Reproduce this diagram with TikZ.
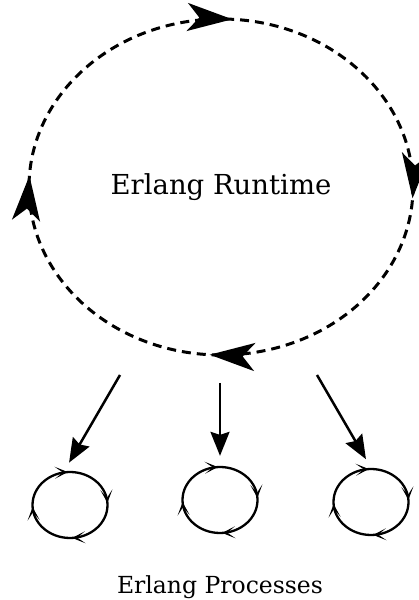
\documentclass[tikz,border=0pt]{standalone}
\usepackage{fontspec}
\setmainfont{DejaVu Serif}
\usetikzlibrary{arrows.meta,decorations.markings,shapes.geometric,positioning}

\tikzset{
  runtimeloop/.style={ellipse, draw, dashed, line width=3pt,
    dash pattern=on 9pt off 6pt, minimum width=384pt, minimum height=336pt,
    inner sep=0pt, font=\fontsize{27.5}{32}\selectfont,
    postaction={decorate},
    decoration={markings,
      mark=at position 0.24 with {\arrowreversed{Stealth[length=45pt,width=28pt,inset=12pt]}},
      mark=at position 0.49 with {\arrowreversed{Stealth[length=45pt,width=28pt,inset=12pt]}},
      mark=at position 0.74 with {\arrowreversed{Stealth[length=45pt,width=28pt,inset=12pt]}},
      mark=at position 0.99 with {\arrowreversed{Stealth[length=45pt,width=28pt,inset=12pt]}}}},
  proc/.style={ellipse, draw, line width=2.3pt, minimum width=75pt,
    minimum height=66pt, inner sep=0pt,
    postaction={decorate},
    decoration={markings,
      mark=at position 0.01 with {\arrowreversed{Stealth[length=13pt,width=12pt,inset=8pt]}},
      mark=at position 0.26 with {\arrowreversed{Stealth[length=13pt,width=12pt,inset=8pt]}},
      mark=at position 0.51 with {\arrowreversed{Stealth[length=13pt,width=12pt,inset=8pt]}},
      mark=at position 0.76 with {\arrowreversed{Stealth[length=13pt,width=12pt,inset=8pt]}}}},
  spawn/.style={-{Stealth[length=24pt,width=19pt,inset=3pt]}, line width=2.5pt, shorten >=10pt}
}

\begin{document}
\begin{tikzpicture}[x=1pt,y=1pt]
\useasboundingbox (0,0) rectangle (419,600);

\node[runtimeloop] (runtime) at (221,413) {Erlang Runtime};

\node[proc] (p1) at (70,95) {};
\node[proc] (p2) at (220,100) {};
\node[proc] (p3) at (371,98) {};

\coordinate (s1) at (120,225);
\coordinate (s2) at (220,217);
\coordinate (s3) at (317,225);

\draw[spawn] (s1) -- (p1.100);
\draw[spawn] (s2) -- (p2.north);
\draw[spawn] (s3) -- (p3.north);

\node[font=\fontsize{23.5}{28}\selectfont] (label) at (220,13) {Erlang Processes};

\end{tikzpicture}
\end{document}
